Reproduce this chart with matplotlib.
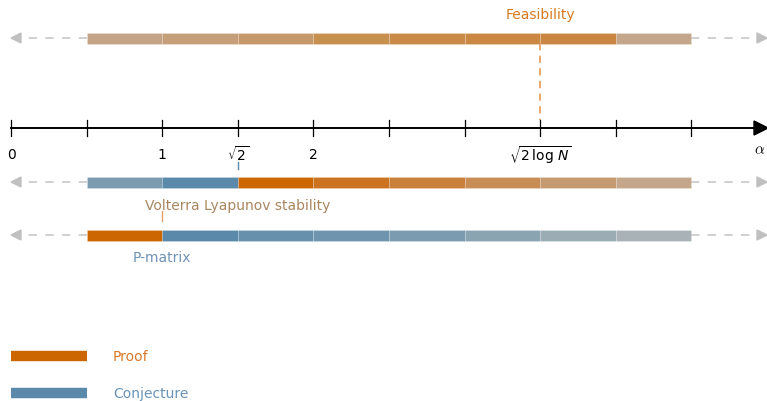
import numpy as np
import matplotlib.pyplot as plt
from matplotlib.patches import Polygon

plt.rcParams['font.family'] = ['DejaVu Sans']
plt.rcParams['mathtext.fontset'] = 'dejavusans'

# axis ticks (in tick units) and their labels
tick_pos = [0, 1, 2, 3, 4, 5, 6, 7, 8, 9]
label_pos = [0, 2, 3, 4, 7]
label_text = ['0', '1', r'$\sqrt{2}$', '2', r'$\sqrt{2\,\log\,N}$']

# one colour per unit segment, from tick 1 to tick 9
seg_left = [1, 2, 3, 4, 5, 6, 7, 8]
feas_colors = ['#c4a386', '#c59f7a', '#c6996b', '#c8904f', '#c98b47', '#ca8843',
               '#c98642', '#c4a68a']
volterra_colors = ['#7b9bb0', '#5b89aa', '#cc6600', '#cc7322', '#ca7f3a', '#c88c55',
                   '#c69a70', '#c4a68a']
pmatrix_colors = ['#cc6600', '#5b89aa', '#6790ac', '#6f94ad', '#7b9bb0', '#8ba4b2',
                  '#9cacb4', '#a9b2b6']

rows = [
    (39, feas_colors),
    (183, volterra_colors),
    (236, pmatrix_colors),
]

W, H = 767, 402
x0, unit = 11, 75.6


def px(u):
    return x0 + unit * u


fig = plt.figure(figsize=(W / 100, H / 100), dpi=100)
ax = fig.add_axes([0, 0, 1, 1])
ax.set_xlim(0, W)
ax.set_ylim(H, 0)
ax.axis('off')

# colour bars with dashed grey continuation arrows
for y, cols in rows:
    for left, c in zip(seg_left, cols):
        ax.barh(y, unit, left=px(left), height=11, color=c,
                edgecolor=(1, 1, 1, 0.22), linewidth=0.6, zorder=3)
    ax.plot([px(1), 20], [y, y], color='#c8c8c8', lw=1.2, ls=(0, (5, 5)), zorder=2)
    ax.plot([px(9), 757], [y, y], color='#c8c8c8', lw=1.2, ls=(0, (5, 5)), zorder=2)
    ax.add_patch(Polygon([[11, y], [21, y - 5], [21, y + 5]], closed=True,
                         color='#c0c0c0', zorder=2))
    ax.add_patch(Polygon([[767, y], [757, y - 5], [757, y + 5]], closed=True,
                         color='#c0c0c0', zorder=2))

# main alpha axis
ax.plot([px(0), 757], [129, 129], color='black', lw=1.4, zorder=4)
ax.add_patch(Polygon([[768, 129], [754, 122], [754, 136]], closed=True,
                     color='black', zorder=4))
for t in tick_pos:
    ax.plot([px(t), px(t)], [121, 137], color='black', lw=0.9, zorder=4)
for p, s in zip(label_pos, label_text):
    ax.text(px(p), 155, s, ha='center', va='center', fontsize=10)
ax.text(760, 150, r'$\alpha$', ha='center', va='center', fontsize=11,
        math_fontfamily='cm')

# threshold markers
ax.plot([px(7), px(7)], [44, 121], color='#e8a060', lw=1.3, ls=(0, (4, 3)), zorder=2)
ax.plot([px(3), px(3)], [163, 170], color='#5b89aa', lw=1.0, zorder=2)
ax.plot([px(2), px(2)], [212, 222], color='#e8a060', lw=1.0, zorder=2)

# row labels
ax.text(px(7), 15, 'Feasibility', ha='center', va='center', fontsize=10,
        color='#d77a22')
ax.text(px(3), 206, 'Volterra Lyapunov stability', ha='center', va='center',
        fontsize=10, color='#a8865f')
ax.text(px(2), 258, 'P-matrix', ha='center', va='center', fontsize=10,
        color='#6f93b3')

# legend
ax.plot([px(0), px(1)], [357, 357], color='#cc6600', lw=7.5, solid_capstyle='butt')
ax.text(113, 357, 'Proof', ha='left', va='center', fontsize=10, color='#d9782b')
ax.plot([px(0), px(1)], [394, 394], color='#5b89aa', lw=7.5, solid_capstyle='butt')
ax.text(113, 394, 'Conjecture', ha='left', va='center', fontsize=10, color='#6a92b5')

fig.savefig('out.png', dpi=100)
